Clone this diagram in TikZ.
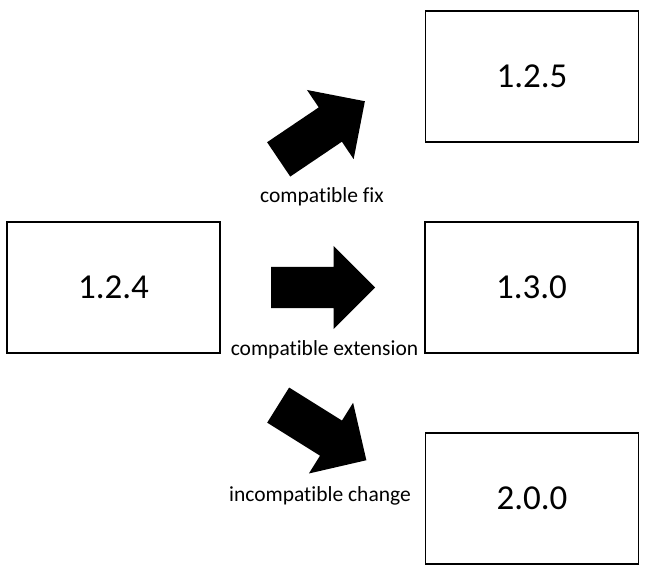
\documentclass[tikz,border=0pt]{standalone}
\usepackage{fontspec}
\setmainfont{Carlito}[Ligatures={NoCommon}]
\usetikzlibrary{shapes.arrows}
\begin{document}
\begin{tikzpicture}[x=1pt,y=-1pt,
  verbox/.style={draw=black, line width=1.5pt, minimum width=213pt, minimum height=131pt, inner sep=0pt, font=\fontsize{35}{40}\selectfont},
  blockarrow/.style={single arrow, fill=black, draw=none, inner sep=0pt, inner ysep=20.5pt, minimum height=104pt, single arrow head extend=21pt, single arrow tip angle=90, anchor=tail},
  lbl/.style={font=\fontsize{21.5}{25}\selectfont, inner sep=0pt, anchor=base}]
\useasboundingbox (0,0) rectangle (645,573);
\node[verbox] (v124) at (113.5,287.5) {1.2.4};
\node[verbox] (v125) at (532,76.5) {1.2.5};
\node[verbox] (v130) at (531.5,287.5) {1.3.0};
\node[verbox] (v200) at (532,498.5) {2.0.0};
\node[blockarrow, rotate=34] (afix) at (278.5,159.5) {};
\node[blockarrow] (aext) at (271,287.5) {};
\node[blockarrow, rotate=-32] (achg) at (278,405) {};
\node[lbl] (lfix) at (322,202) {compatible fix};
\node[lbl] (lext) at (324.5,355) {compatible extension};
\node[lbl] (lchg) at (320,501) {incompatible change};
\end{tikzpicture}
\end{document}
